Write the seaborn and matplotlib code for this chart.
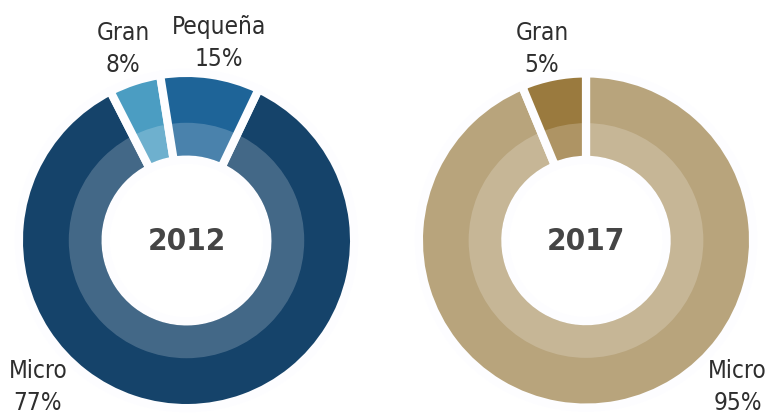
import matplotlib
matplotlib.use("Agg")
import matplotlib.pyplot as plt
from matplotlib import font_manager
from matplotlib.patches import Wedge
import seaborn as sns

# ---- data (listed in clockwise drawing order) ----
categories_2012 = ["Micro", "Gran", "Pequeña"]
shares_2012 = [85.4, 5.0, 9.6]          # arc shares as drawn
pct_labels_2012 = ["77%", "8%", "15%"]  # printed percentages
colors_2012 = ["#15436a", "#4b9dc2", "#1e6498"]

categories_2017 = ["Micro", "Gran"]
shares_2017 = [93.75, 6.25]
pct_labels_2017 = ["95%", "5%"]
colors_2017 = ["#b8a47c", "#9a7a3e"]

years = ["2012", "2017"]

sns.set_theme(style="white")

names = {f.name for f in font_manager.fontManager.ttflist}
if "Liberation Sans Narrow" in names:
    FONT = ["Liberation Sans Narrow", "DejaVu Sans"]
    STRETCH = "normal"
else:
    FONT = ["DejaVu Sans"]
    STRETCH = "condensed"
plt.rcParams["font.family"] = FONT

W, H = 771, 414
fig = plt.figure(figsize=(W / 100, H / 100), dpi=100)
ax = fig.add_axes([0, 0, 1, 1])

EDGE_PX = 8.2
EDGE_COL = "#fdfdff"
lw_pt = EDGE_PX * 72 / 100


def donut(center, r_vis, shares, colors, startangle):
    r_hole = r_vis * 0.52
    r_band = r_vis * 0.72
    R = r_vis + EDGE_PX / 2
    inner = r_hole - EDGE_PX / 2
    ax.pie(shares, colors=colors, center=center, radius=R,
           startangle=startangle, counterclock=False,
           wedgeprops=dict(width=R - inner, edgecolor=EDGE_COL,
                           linewidth=lw_pt, joinstyle="round"))
    ax.add_patch(Wedge(center, r_band, 0, 360, width=r_band - r_hole,
                       facecolor="white", alpha=0.2, edgecolor="none",
                       zorder=5))


cy = H - 241.5
c1 = (186.5, cy)
c2 = (586.0, cy)
donut(c1, 163.5, shares_2012, colors_2012, 64.5)
donut(c2, 163.0, shares_2017, colors_2017, 90)

# center year labels
for c, yr in zip([c1, c2], years):
    ax.text(c[0], c[1], yr, ha="center", va="center", fontsize=22.5,
            fontweight="bold", color="#454545", fontstretch=STRETCH,
            zorder=10)

TXT = "#2e2e2e"
FS = 17.5


def lab(x, ytop_base, name, pct):
    ax.text(x, H - ytop_base, name, ha="center", va="baseline",
            fontsize=FS, color=TXT, fontstretch=STRETCH)
    ax.text(x, H - ytop_base - 32, pct, ha="center", va="baseline",
            fontsize=FS, color=TXT, fontstretch=STRETCH)


# 2012 labels
lab(38, 378.5, categories_2012[0], pct_labels_2012[0])
lab(123, 40, categories_2012[1], pct_labels_2012[1])
lab(219, 34, categories_2012[2], pct_labels_2012[2])
# 2017 labels
lab(737.5, 378.5, categories_2017[0], pct_labels_2017[0])
lab(542, 40, categories_2017[1], pct_labels_2017[1])

ax.set_xlim(0, W)
ax.set_ylim(0, H)
ax.set_aspect("equal")
ax.axis("off")

fig.savefig("out.png", dpi=100, facecolor="white")
